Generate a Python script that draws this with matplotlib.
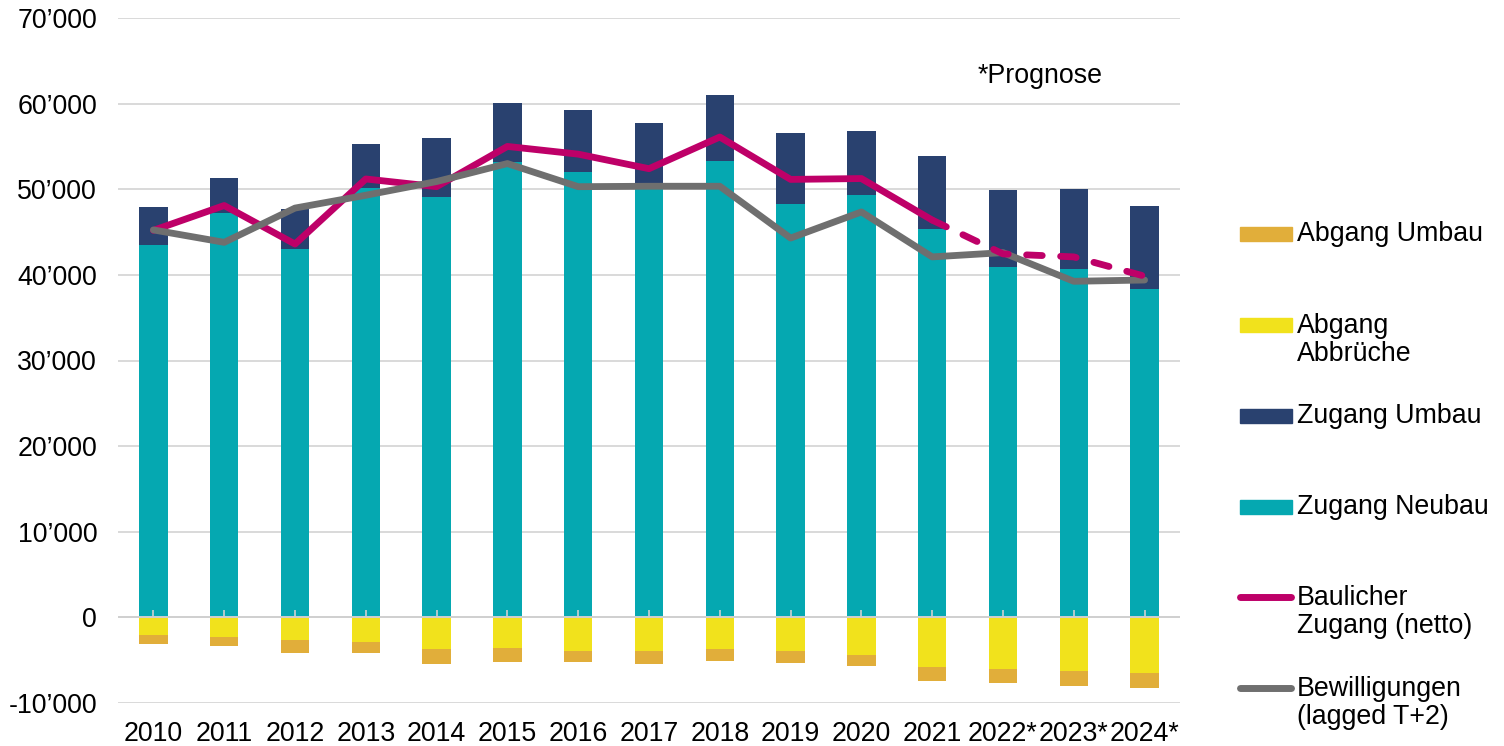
import numpy as np
import matplotlib.pyplot as plt
from matplotlib.patches import Rectangle
from matplotlib.lines import Line2D

plt.rcParams['font.family'] = ['Liberation Sans', 'DejaVu Sans']

# Data
years = ['2010', '2011', '2012', '2013', '2014', '2015', '2016', '2017',
         '2018', '2019', '2020', '2021', '2022*', '2023*', '2024*']
zugang_neubau = [43500, 47200, 43050, 50100, 49150, 53150, 52000, 50300,
                 53250, 48250, 49300, 45300, 40900, 40700, 38400]
zugang_umbau = [4470, 4100, 4680, 5200, 6800, 6930, 7220, 7400,
                7770, 8300, 7500, 8600, 9000, 9350, 9700]
abgang_abbrueche = [-2100, -2250, -2700, -2830, -3720, -3570, -3880, -3880,
                    -3710, -3900, -4340, -5820, -6020, -6290, -6520]
abgang_umbau = [-1000, -1080, -1410, -1360, -1750, -1590, -1310, -1510,
                -1370, -1450, -1320, -1600, -1640, -1680, -1760]
baulicher_zugang = [45200, 48100, 43600, 51200, 50300, 55000, 54100, 52400,
                    56100, 51150, 51250, 46400, 42450, 42100, 39850]
bewilligungen = [45250, 43800, 47800, 49300, 50900, 53000, 50300, 50350,
                 50350, 44300, 47350, 42100, 42600, 39250, 39400]
n_actual = 12  # 2010-2021 solid, forecast dashed

c_neubau = '#05A8B1'
c_zumbau = '#29416F'
c_abbruch = '#F1E21C'
c_aumbau = '#E1AE3A'
c_netto = '#BE0068'
c_bew = '#6F6F6F'

FS = 19.3
W, H = 1504, 746
fig = plt.figure(figsize=(W / 100, H / 100), dpi=100)
ax = fig.add_axes([118 / W, 43 / H, 1062 / W, 685 / H])

x = np.arange(len(years))
bw = 0.4
ax.bar(x, zugang_neubau, bw, color=c_neubau, zorder=2)
ax.bar(x, zugang_umbau, bw, bottom=zugang_neubau, color=c_zumbau, zorder=2)
ax.bar(x, abgang_abbrueche, bw, color=c_abbruch, zorder=2)
ax.bar(x, abgang_umbau, bw, bottom=abgang_abbrueche, color=c_aumbau, zorder=2)

lw = 4.9
ax.plot(x[:n_actual], baulicher_zugang[:n_actual], color=c_netto, lw=lw,
        solid_capstyle='round', solid_joinstyle='round', zorder=3)
ax.plot(x, bewilligungen, color=c_bew, lw=lw,
        solid_capstyle='round', solid_joinstyle='round', zorder=4)
ax.plot(x[n_actual - 1:], baulicher_zugang[n_actual - 1:], color=c_netto, lw=lw,
        dashes=(2.3, 2.7), dash_capstyle='round', zorder=5)

ax.set_xlim(-0.5, len(years) - 0.5)
ax.set_ylim(-10000, 70000)
yt = np.arange(-10000, 70001, 10000)
ax.set_yticks(yt)
ax.set_yticklabels([f'{v:,}'.replace(',', '\u2019') for v in yt])
ax.set_xticks(x)
ax.set_xticklabels(years)
ax.tick_params(axis='y', length=0, pad=15, labelsize=FS)
ax.tick_params(axis='x', length=0, pad=13, labelsize=FS)
ax.grid(axis='y', color='#D9D9D9', lw=1.4, zorder=0)
ax.set_axisbelow(True)
for s in ax.spines.values():
    s.set_visible(False)

# category axis at zero
ax.axhline(0, color='#D0D0D0', lw=1.4, zorder=2.5)
sec = ax.secondary_xaxis(10000 / 80000)
sec.set_xticks(x)
sec.set_xticklabels([])
sec.tick_params(direction='in', length=5, width=1.2, color='#D0D0D0')
sec.spines['bottom'].set_visible(False)
sec.set_zorder(6)

fig.text(978 / W, 1 - 76 / H, '*Prognose', fontsize=FS, va='center', ha='left')

# legend (Excel-like layout, text's first line level with the key)
def fy(py):
    return 1 - py / H

legend_items = [
    ('patch', c_aumbau, 'Abgang Umbau', 234),
    ('patch', c_abbruch, 'Abgang\nAbbrüche', 325),
    ('patch', c_zumbau, 'Zugang Umbau', 416),
    ('patch', c_neubau, 'Zugang Neubau', 507),
    ('line', c_netto, 'Baulicher\nZugang (netto)', 597),
    ('line', c_bew, 'Bewilligungen\n(lagged T+2)', 688),
]
line_px = 30
for kind, col, lab, py in legend_items:
    if kind == 'patch':
        fig.patches.append(Rectangle((1240 / W, fy(py + 7)), 52 / W, 14 / H,
                                     transform=fig.transFigure, color=col))
    else:
        fig.lines.append(Line2D([1240 / W, 1291 / W], [fy(py), fy(py)], color=col,
                                lw=5, solid_capstyle='round',
                                transform=fig.transFigure))
    nl = lab.count('\n')
    fig.text(1297 / W, fy(py + nl * line_px / 2), lab, fontsize=FS, va='center',
             ha='left', linespacing=1.12)

fig.savefig('out.png', dpi=100)
